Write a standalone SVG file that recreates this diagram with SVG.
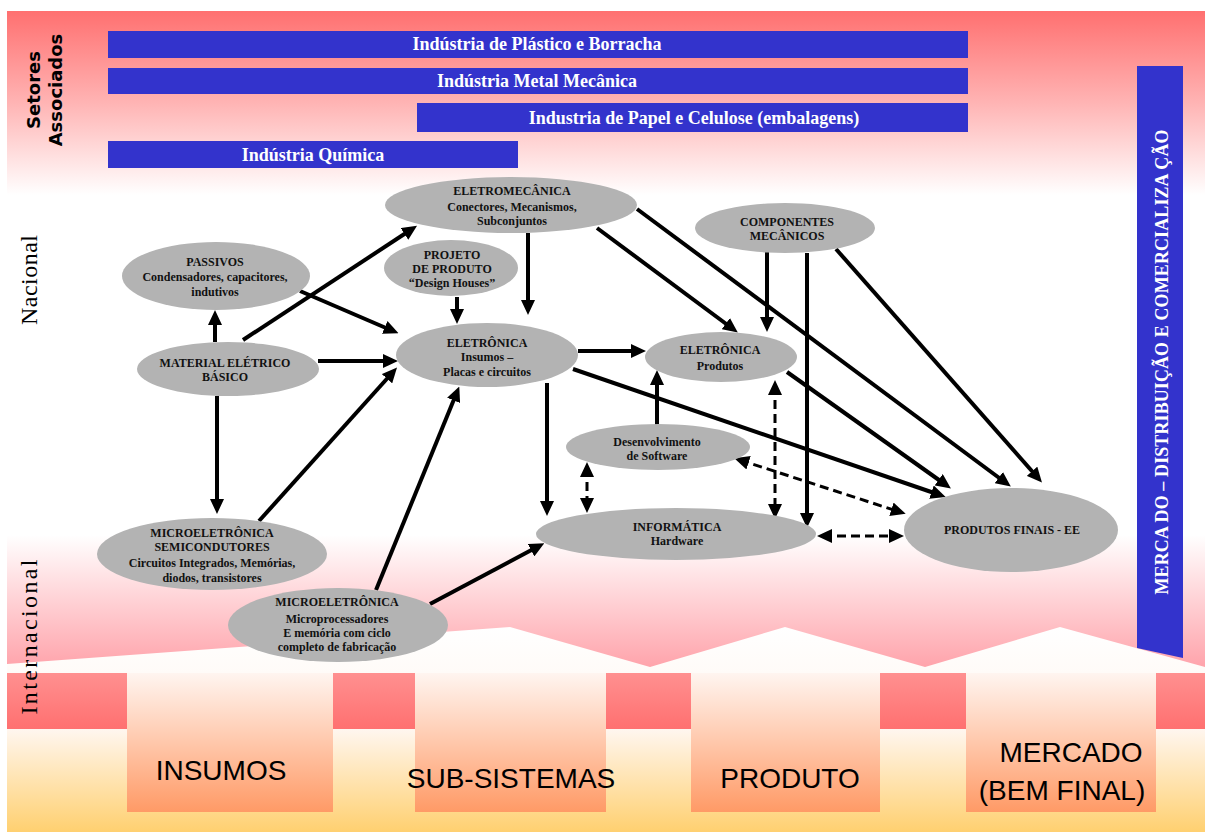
<svg xmlns="http://www.w3.org/2000/svg" width="1205" height="832" viewBox="0 0 1205 832">
<defs>
<linearGradient id="gTop" x1="0" y1="11" x2="0" y2="195" gradientUnits="userSpaceOnUse"><stop offset="0" stop-color="#ff7070"/><stop offset="0.5" stop-color="#ffb4b4"/><stop offset="1" stop-color="#ffffff"/></linearGradient>
<linearGradient id="gLow" x1="0" y1="535" x2="0" y2="672" gradientUnits="userSpaceOnUse"><stop offset="0" stop-color="#ffffff"/><stop offset="1" stop-color="#ffa0a8"/></linearGradient>
<linearGradient id="gZig" x1="0" y1="627" x2="0" y2="832" gradientUnits="userSpaceOnUse"><stop offset="0" stop-color="#ffffff"/><stop offset="0.5" stop-color="#fff6ef"/><stop offset="1" stop-color="#ffd070"/></linearGradient>
<linearGradient id="gPink" x1="0" y1="673" x2="0" y2="729" gradientUnits="userSpaceOnUse"><stop offset="0" stop-color="#ff9090"/><stop offset="1" stop-color="#ff7070"/></linearGradient>
<linearGradient id="gCol" x1="0" y1="673" x2="0" y2="812" gradientUnits="userSpaceOnUse"><stop offset="0" stop-color="#fff5f0"/><stop offset="1" stop-color="#ff9a66"/></linearGradient>
<marker id="ah" viewBox="0 0 15 14" markerWidth="15" markerHeight="14" refX="9" refY="7" orient="auto-start-reverse" markerUnits="userSpaceOnUse"><path d="M0,0 L15,7 L0,14 z" fill="#000"/></marker>
<style>
.bar{fill:#3333cc}
.bt{font-family:"Liberation Serif",serif;font-weight:bold;font-size:18px;fill:#fff;text-anchor:middle}
.side{font-family:"Liberation Serif",serif;font-size:24px;fill:#000;text-anchor:middle}
.node ellipse{fill:#b3b3b3}
.nt{font-family:"Liberation Serif",serif;font-weight:bold;font-size:12px;fill:#111;text-anchor:middle}
.big{font-family:"Liberation Sans",sans-serif;font-size:28px;fill:#000;text-anchor:middle}
.c{stroke:#000;stroke-width:4;fill:none;marker-end:url(#ah)}
.d{stroke:#000;stroke-width:3;fill:none;stroke-dasharray:9 5;marker-start:url(#ah);marker-end:url(#ah)}
</style>
</defs>
<g id="background">
<rect x="0" y="0" width="1205" height="832" fill="#ffffff"/>
<rect x="7" y="11" width="1198" height="184" fill="url(#gTop)"/>
<rect x="7" y="535" width="1198" height="140" fill="url(#gLow)"/>
<polygon points="7,664 510,627 650,667 785,627 925,667 1060,627 1205,667 1205,832 7,832" fill="url(#gZig)"/>
<rect x="7" y="673" width="120" height="56" fill="url(#gPink)"/>
<rect x="333" y="673" width="82" height="56" fill="url(#gPink)"/>
<rect x="606" y="673" width="85" height="56" fill="url(#gPink)"/>
<rect x="880" y="673" width="86" height="56" fill="url(#gPink)"/>
<rect x="1156" y="673" width="49" height="56" fill="url(#gPink)"/>
<rect x="127" y="673" width="206" height="139" fill="url(#gCol)"/>
<rect x="415" y="673" width="191" height="139" fill="url(#gCol)"/>
<rect x="691" y="673" width="189" height="139" fill="url(#gCol)"/>
<rect x="966" y="673" width="190" height="139" fill="url(#gCol)"/>
</g>
<g id="stages">
<text class="big" x="221" y="780">INSUMOS</text>
<text class="big" x="511" y="788">SUB-SISTEMAS</text>
<text class="big" x="790" y="788">PRODUTO</text>
<text class="big" x="1071" y="762">MERCADO</text>
<text class="big" x="1062" y="800">(BEM FINAL)</text>
</g>
<g id="sectors">
<rect class="bar" x="108" y="31" width="860" height="27"/>
<text class="bt" x="537" y="50">Indústria de Plástico e Borracha</text>
<rect class="bar" x="108" y="68" width="860" height="26"/>
<text class="bt" x="537" y="87">Indústria Metal Mecânica</text>
<rect class="bar" x="417" y="103" width="551" height="29"/>
<text class="bt" x="694" y="124">Industria de Papel e Celulose (embalagens)</text>
<rect class="bar" x="108" y="141" width="410" height="27"/>
<text class="bt" x="313" y="161">Indústria Química</text>
<text font-family="DejaVu Sans,sans-serif" font-weight="bold" font-size="18" text-anchor="middle" transform="translate(40,90) rotate(-90)">Setores</text>
<text font-family="DejaVu Sans,sans-serif" font-weight="bold" font-size="18" text-anchor="middle" transform="translate(62,90) rotate(-90)">Associados</text>
<text class="side" transform="translate(37,280) rotate(-90)" textLength="90">Nacional</text>
<text class="side" transform="translate(37,637) rotate(-90)" textLength="155">Internacional</text>
</g>
<g id="mercado">
<polygon class="bar" points="1137,66 1183,66 1183,658 1137,648"/>
<text class="bt" transform="translate(1168,362) rotate(-90)" textLength="465">MERCA DO – DISTRIBUIÇÃO E COMERCIALIZA ÇÃO</text>
</g>
<g id="connectors">
<path class="c" d="M215,342 L215,316"/>
<path class="c" d="M217,396 L217,508"/>
<path class="c" d="M243,340 L412,229"/>
<path class="c" d="M300,291 L393,331"/>
<path class="c" d="M318,361 L392,361"/>
<path class="c" d="M259,521 L393,372"/>
<path class="c" stroke-width="3.5" d="M376,590 L457,392"/>
<path class="c" d="M430,604 L539,546"/>
<path class="c" d="M457,297 L457,318"/>
<path class="c" d="M528,233 L528,309"/>
<path class="c" d="M578,351 L640,351"/>
<path class="c" d="M547,383 L547,510"/>
<path class="c" d="M573,369 L940,495"/>
<path class="c" d="M597,228 L733,329"/>
<path class="c" d="M637,209 L1006,483"/>
<path class="c" stroke-width="3" d="M767,252 L767,326"/>
<path class="c" stroke-width="5" d="M807,253 L807,522"/>
<path class="c" d="M836,249 L1038,478"/>
<path class="c" d="M787,372 L946,485"/>
<path class="c" d="M657,425 L657,376"/>
<path class="d" d="M587,468 L587,507"/>
<path class="d" d="M775,386 L775,513"/>
<path class="d" d="M740,460 L900,512"/>
<path class="d" d="M823,536 L898,536"/>
</g>
<g id="n-eletromecanica" class="node"><ellipse cx="511" cy="205" rx="126" ry="28"/>
<text class="nt" x="512" y="195">ELETROMECÂNICA</text><text class="nt" x="512" y="211">Conectores, Mecanismos,</text><text class="nt" x="512" y="225">Subconjuntos</text></g>
<g id="n-passivos" class="node"><ellipse cx="216" cy="276" rx="94" ry="34"/>
<text class="nt" x="215" y="266">PASSIVOS</text><text class="nt" x="215" y="281">Condensadores, capacitores,</text><text class="nt" x="215" y="296">indutivos</text></g>
<g id="n-projeto" class="node"><ellipse cx="451" cy="268" rx="67" ry="28"/>
<text class="nt" x="452" y="259">PROJETO</text><text class="nt" x="452" y="273">DE PRODUTO</text><text class="nt" x="452" y="287">“Design Houses”</text></g>
<g id="n-componentes" class="node"><ellipse cx="785" cy="228" rx="90" ry="25"/>
<text class="nt" x="787" y="226">COMPONENTES</text><text class="nt" x="787" y="240">MECÂNICOS</text></g>
<g id="n-material" class="node"><ellipse cx="228" cy="369" rx="91" ry="27"/>
<text class="nt" x="225" y="367">MATERIAL ELÉTRICO</text><text class="nt" x="225" y="381">BÁSICO</text></g>
<g id="n-eletronica-insumos" class="node"><ellipse cx="487" cy="355" rx="91" ry="32"/>
<text class="nt" x="487" y="347">ELETRÔNICA</text><text class="nt" x="487" y="361">Insumos –</text><text class="nt" x="487" y="376">Placas e circuitos</text></g>
<g id="n-eletronica-produtos" class="node"><ellipse cx="721" cy="357" rx="76" ry="25"/>
<text class="nt" x="720" y="354">ELETRÔNICA</text><text class="nt" x="720" y="370">Produtos</text></g>
<g id="n-software" class="node"><ellipse cx="658" cy="447" rx="92" ry="23"/>
<text class="nt" x="657" y="446">Desenvolvimento</text><text class="nt" x="657" y="460">de Software</text></g>
<g id="n-informatica" class="node"><ellipse cx="676" cy="534" rx="140" ry="26"/>
<text class="nt" x="677" y="531">INFORMÁTICA</text><text class="nt" x="677" y="545">Hardware</text></g>
<g id="n-produtos-finais" class="node"><ellipse cx="1011" cy="530" rx="107" ry="42"/>
<text class="nt" x="1012" y="534">PRODUTOS FINAIS - EE</text></g>
<g id="n-micro-semi" class="node"><ellipse cx="212" cy="554" rx="115" ry="36"/>
<text class="nt" x="212" y="537">MICROELETRÔNICA</text><text class="nt" x="212" y="551">SEMICONDUTORES</text><text class="nt" x="212" y="567">Circuitos Integrados, Memórias,</text><text class="nt" x="212" y="582">diodos, transistores</text></g>
<g id="n-micro-proc" class="node"><ellipse cx="338" cy="625" rx="110" ry="37"/>
<text class="nt" x="337" y="606">MICROELETRÔNICA</text><text class="nt" x="337" y="623">Microprocessadores</text><text class="nt" x="337" y="637">E memória com ciclo</text><text class="nt" x="337" y="651">completo de fabricação</text></g>
</svg>
